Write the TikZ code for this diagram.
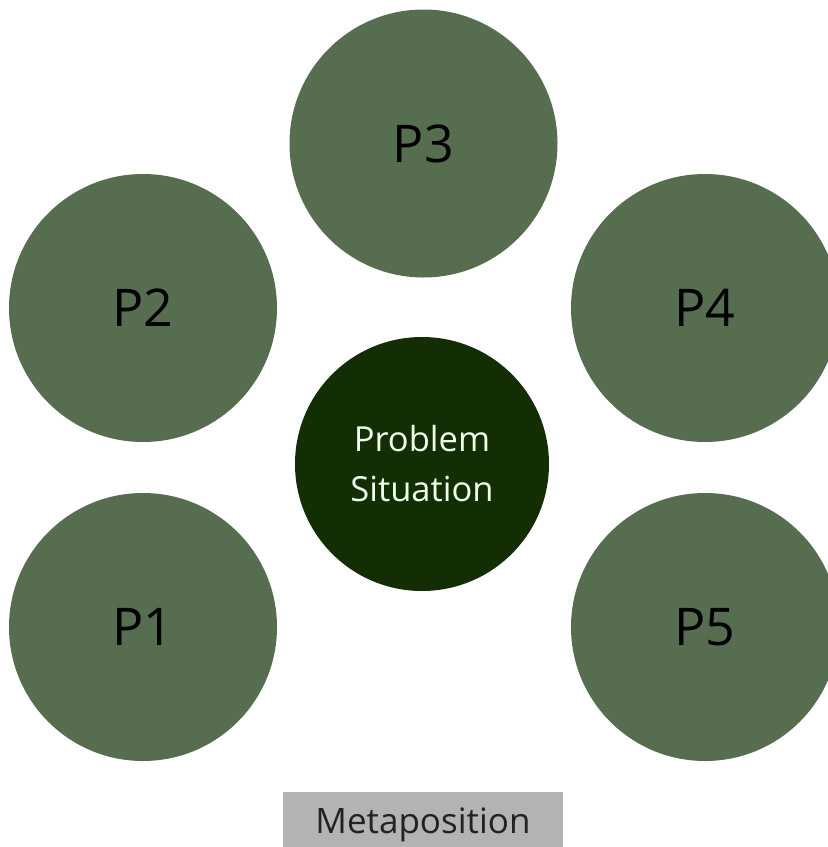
\documentclass[tikz,border=0pt]{standalone}
\usepackage{fontspec}
\setmainfont{Open Sans}
\usepackage{tikz}
\usetikzlibrary{positioning}
\definecolor{outergreen}{RGB}{86, 109, 79}
\definecolor{innergreen}{RGB}{19, 45, 5}
\definecolor{metagrey}{RGB}{179, 179, 179}
\definecolor{metatext}{RGB}{34, 34, 34}

\begin{document}
\begin{tikzpicture}[x=1pt, y=-1pt,
    perspective/.style={circle, fill=outergreen, minimum size=268pt, inner sep=0pt, text=black, font=\fontsize{52}{60}\selectfont},
    situation/.style={circle, fill=innergreen, minimum size=254pt, inner sep=0pt, text=white!92!green, align=center, font=\fontsize{34.5}{50}\selectfont},
    metabox/.style={fill=metagrey, minimum width=280pt, minimum height=66pt, inner sep=0pt, text=metatext, font=\fontsize{35}{40}\selectfont}]
  \useasboundingbox (0,0) rectangle (828,847);
  \clip (0,0) rectangle (828,847);
  % perspectives round the problem
  \node[perspective] (p3) at (423.5,143.5) {P3};
  \node[perspective] (p2) at (143,308) {P2};
  \node[perspective] (p4) at (705,308) {P4};
  \node[perspective] (p1) at (143,627) {P1};
  \node[perspective] (p5) at (705,627) {P5};
  % centre
  \node[situation] (ps) at (422,464) {Problem\\Situation};
  \node[metabox] (meta) at (423,825) {Metaposition};
\end{tikzpicture}
\end{document}
